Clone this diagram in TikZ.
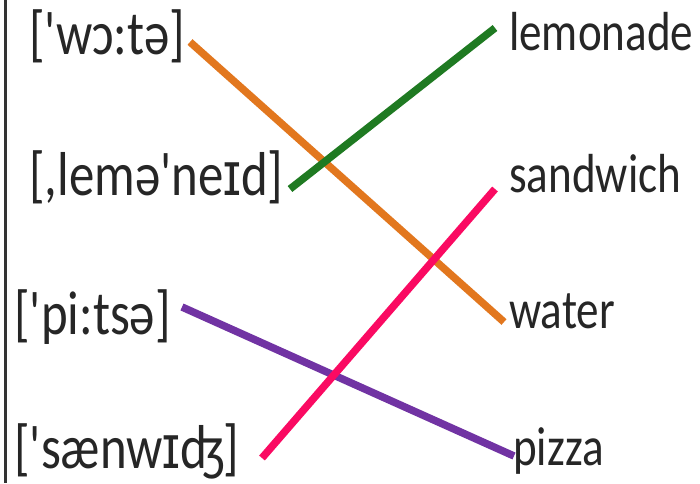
\documentclass[tikz,border=0pt]{standalone}
\usepackage{fontspec}
\setmainfont[FakeStretch=0.82]{Carlito}
\newfontfamily\ipafam[FakeStretch=0.82]{Carlito}
\newfontfamily\smallcapI[FakeStretch=0.8]{Liberation Sans}
\newcommand{\ipaI}{{\smallcapI ɪ}}
\definecolor{txt}{HTML}{262626}
\definecolor{lorange}{HTML}{E2771E}
\definecolor{lgreen}{HTML}{1F7A22}
\definecolor{lpurple}{HTML}{7133A3}
\definecolor{lpink}{HTML}{FA0A62}
\tikzset{
  word/.style={anchor=base west, inner sep=0pt, text=txt, font=\fontsize{55}{60}\selectfont},
  ipa/.style={anchor=base west, inner sep=0pt, text=txt, font=\ipafam\fontsize{62}{66}\selectfont},
  link/.style={line width=7.5pt},
}
\begin{document}
\begin{tikzpicture}[x=1pt,y=-1pt]
\useasboundingbox (0,0) rectangle (700,483);
\fill[white] (0,0) rectangle (700,483);
\coordinate (vt) at (5,0);
\coordinate (vb) at (5,483);
\draw[line width=3pt, color=black!80] (vt) -- (vb);
% left column
\node[ipa] (pw) at (29,54) {['wɔ:tə]};
\node[ipa] (pl) at (29,195) {[,lemə'ne\ipaI d]};
\node[ipa] (pp) at (14,334) {['pi:tsə]};
\node[ipa] (ps) at (14,468) {['sænw\ipaI ʤ]};
% right column
\node[word] (ew) at (509,50) {lemonade};
\node[word] (es) at (509,192) {sandwich};
\node[word] (et) at (509,328) {water};
\node[word] (ep) at (513,465) {pizza};
% connector ends
\coordinate (a1) at (190,42);  \coordinate (a2) at (504,322);
\coordinate (b1) at (290,189); \coordinate (b2) at (495,28);
\coordinate (c1) at (182,307); \coordinate (c2) at (514,456);
\coordinate (d1) at (262,458); \coordinate (d2) at (495,189);
\draw[link, lorange] (a1) -- (a2);
\draw[link, lpurple] (c1) -- (c2);
\draw[link, lgreen] (b1) -- (b2);
\draw[link, lpink] (d1) -- (d2);
\end{tikzpicture}
\end{document}
